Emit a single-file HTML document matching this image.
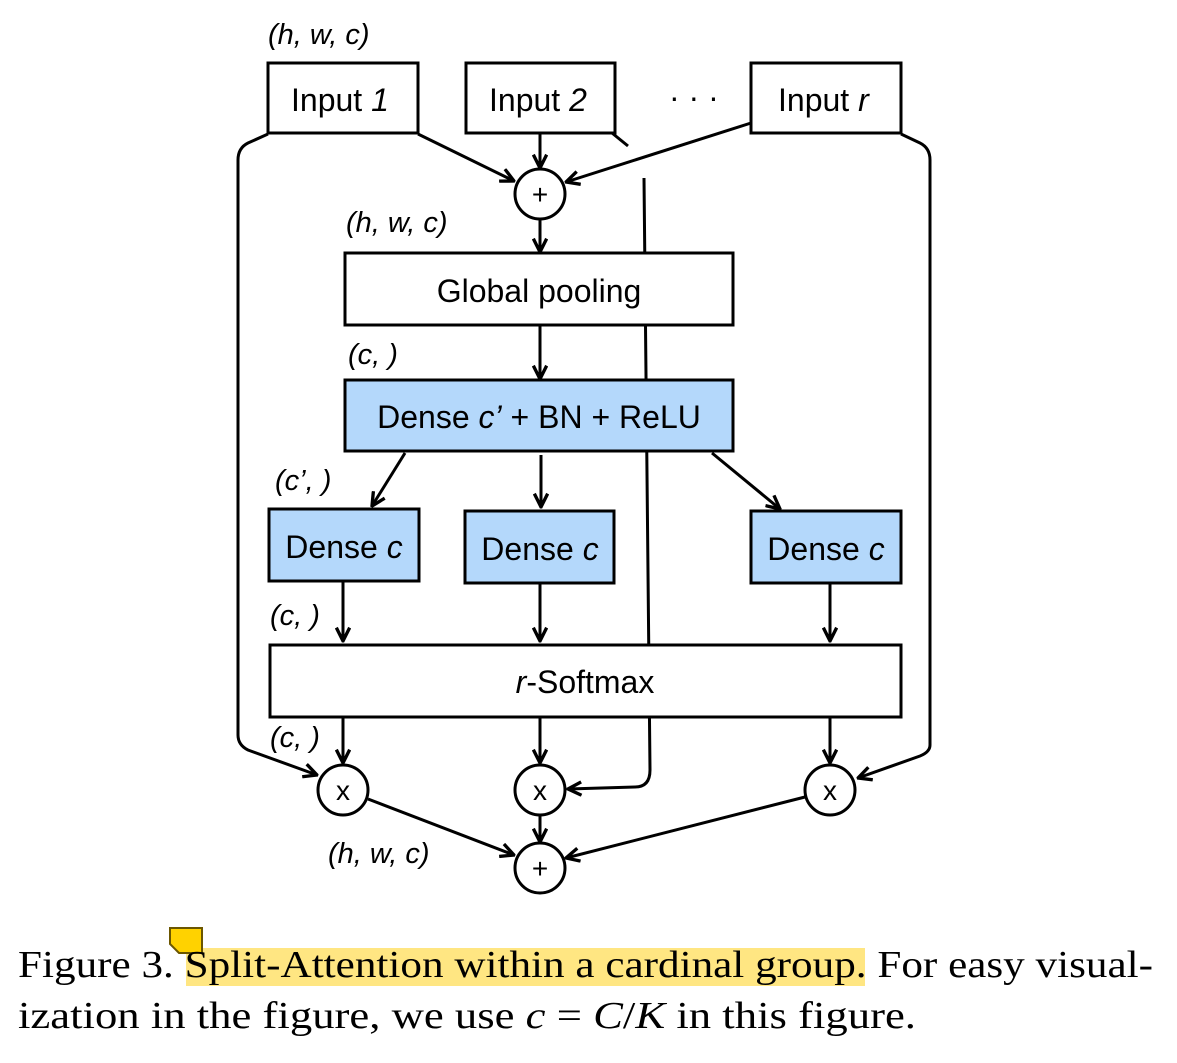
<!DOCTYPE html>
<html><head><meta charset="utf-8"><style>
html,body{margin:0;padding:0;background:#fff;}
svg{display:block;}
</style></head><body>
<svg width="1177" height="1063" viewBox="0 0 1177 1063" xmlns="http://www.w3.org/2000/svg">
<defs>
<marker id="b" viewBox="0 0 12 12" refX="11" refY="6" markerWidth="16" markerHeight="16" orient="auto" markerUnits="userSpaceOnUse">
<path d="M1,1 L11,6 L1,11" fill="none" stroke="#000" stroke-width="2.5"/>
</marker>
</defs>
<g font-family="Liberation Sans, sans-serif" font-size="32" fill="#000">
<g fill="none" stroke="#000" stroke-width="3">
<path d="M644,178 L650,770 Q650,787 635,787 L568,789" marker-end="url(#b)"/>
<rect x="268" y="63" width="150" height="70" fill="#fff"/>
<rect x="466" y="63" width="149" height="70" fill="#fff"/>
<rect x="751" y="63" width="150" height="70" fill="#fff"/>
<rect x="345" y="253" width="388" height="72" fill="#fff"/>
<rect x="345" y="380" width="388" height="71" fill="#b4d8fb"/>
<rect x="269" y="509" width="150" height="72" fill="#b4d8fb"/>
<rect x="465" y="511" width="149" height="72" fill="#b4d8fb"/>
<rect x="751" y="511" width="150" height="72" fill="#b4d8fb"/>
<rect x="270" y="645" width="631" height="72" fill="#fff"/>
<circle cx="540" cy="194" r="25"/>
<circle cx="343" cy="790" r="25"/>
<circle cx="540" cy="790" r="25"/>
<circle cx="830" cy="790" r="25"/>
<circle cx="540" cy="868" r="25"/>
<g marker-end="url(#b)">
<line x1="418" y1="134" x2="514" y2="181"/>
<line x1="540" y1="134" x2="540" y2="168"/>
<line x1="751" y1="123" x2="566" y2="182"/>
<line x1="540" y1="219" x2="540" y2="252"/>
<line x1="540" y1="325" x2="540" y2="379"/>
<line x1="405" y1="453" x2="372" y2="506"/>
<line x1="541" y1="455" x2="541" y2="507"/>
<line x1="712" y1="453" x2="780" y2="509"/>
<line x1="343" y1="582" x2="343" y2="641"/>
<line x1="540" y1="584" x2="540" y2="641"/>
<line x1="830" y1="584" x2="830" y2="641"/>
<line x1="343" y1="717" x2="343" y2="763"/>
<line x1="540" y1="717" x2="540" y2="763"/>
<line x1="830" y1="717" x2="830" y2="763"/>
<line x1="368" y1="799" x2="514" y2="855"/>
<line x1="540" y1="815" x2="540" y2="842"/>
<line x1="805" y1="797" x2="566" y2="858"/>
<path d="M268,134 L248,143 Q238,148 238,160 L238,735 Q238,745 248,750 L317,775"/>
<path d="M901,134 L920,143 Q930,148 930,160 L930,745 Q930,752 920,756 L858,778"/>
</g>
<line x1="612" y1="133" x2="628" y2="146"/>
</g>
<g font-style="italic" font-size="29">
<text x="268" y="44">(h, w, c)</text>
<text x="346" y="232">(h, w, c)</text>
<text x="348" y="364">(c, )</text>
<text x="275" y="490">(c’, )</text>
<text x="270" y="625">(c, )</text>
<text x="270" y="747">(c, )</text>
<text x="328" y="863">(h, w, c)</text>
</g>
<text x="291" y="111">Input <tspan font-style="italic">1</tspan></text>
<text x="489" y="111">Input <tspan font-style="italic">2</tspan></text>
<text x="669" y="108" font-size="32">· · ·</text>
<text x="778" y="111">Input <tspan font-style="italic">r</tspan></text>
<text x="539" y="302" text-anchor="middle">Global pooling</text>
<text x="539" y="428" text-anchor="middle">Dense <tspan font-style="italic">c’</tspan> + BN + ReLU</text>
<text x="344" y="558" text-anchor="middle">Dense <tspan font-style="italic">c</tspan></text>
<text x="540" y="560" text-anchor="middle">Dense <tspan font-style="italic">c</tspan></text>
<text x="826" y="560" text-anchor="middle">Dense <tspan font-style="italic">c</tspan></text>
<text x="585" y="693" text-anchor="middle"><tspan font-style="italic">r</tspan>-Softmax</text>
<g font-size="28" text-anchor="middle">
<text x="540" y="204">+</text>
<text x="540" y="878">+</text>
<text x="343" y="800">x</text>
<text x="540" y="800">x</text>
<text x="830" y="800">x</text>
</g>
</g>
<rect x="186" y="948" width="679" height="38" fill="#ffe682"/>
<path d="M170,928 L202,928 L202,953 L195,953 L179,953 L170,944 Z" fill="#ffd200" stroke="#6b5600" stroke-width="2"/>
<g font-family="Liberation Serif, serif" font-size="38" fill="#000">
<text x="18" y="977" textLength="1135" lengthAdjust="spacingAndGlyphs">Figure 3. Split-Attention within a cardinal group. For easy visual-</text>
<text x="18" y="1028" textLength="898" lengthAdjust="spacingAndGlyphs">ization in the figure, we use <tspan font-style="italic">c</tspan> = <tspan font-style="italic">C</tspan>/<tspan font-style="italic">K</tspan> in this figure.</text>
</g>
</svg>
</body></html>
